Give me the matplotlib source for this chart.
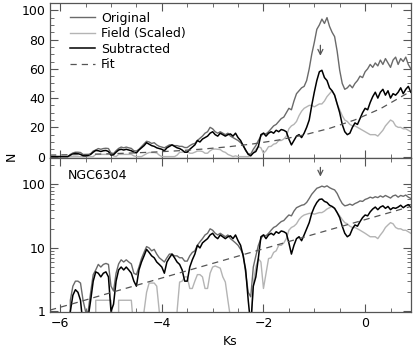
import matplotlib
matplotlib.use('Agg')
import matplotlib.pyplot as plt
import numpy as np
from matplotlib.ticker import MultipleLocator, LogLocator, NullFormatter, FixedLocator

# Ks bins, step 0.05 from -6.2 to 0.9 (10 values per row = 0.5 mag)
ks = np.round(np.arange(-6.2, 0.925, 0.05), 2)

original = [0, 0, 0, 0, 0, 0, 0, 0, 1.5, 2.5,
            3, 3, 2.8, 1.5, 1, 1, 2, 3.8, 4.5, 5.5,
            5, 5.5, 5.7, 5.5, 2.5, 2.1, 4, 5.6, 6.5, 6,
            6.5, 6, 5.6, 4, 3.8, 5, 6.8, 8.5, 10.5, 10,
            9, 9.5, 8, 7, 6.5, 6, 7, 8, 8, 7.5,
            7.5, 7, 7, 6.2, 6.2, 7.5, 8.5, 9, 11, 12.5,
            14, 16, 17, 20, 19, 17, 16, 17, 16, 15,
            16, 14, 13, 12, 11, 9.5, 8, 4, 2, 1.7,
            5, 7.5, 11, 14, 16, 15.5, 17, 19, 21, 22,
            24, 26, 27, 30, 33, 32, 38, 43, 45, 47,
            48, 52, 60, 70, 78, 87, 90, 94, 91, 95,
            89, 85, 82, 72, 59, 50, 46, 47, 49, 47,
            50, 52, 55, 54, 58, 60, 63, 61, 64, 62,
            66, 63, 67, 64, 61, 66, 68, 63, 67, 65,
            68, 63, 60]

field = [0, 0, 0, 0, 0, 0, 0, 0, 0, 0,
         0, 0, 0, 0, 0, 0, 0, 0, 1.5, 1.5,
         1.5, 1.5, 1.5, 1.5, 1.5, 0.5, 0, 1.5, 1.5, 1.5,
         1.5, 1.5, 1.5, 0.5, 0, 0, 0, 1, 2, 2.8,
         2.8, 2.8, 2.5, 1, 0, 0, 0, 0, 0, 0,
         1, 2.9, 3, 3.5, 3.5, 2.3, 2.3, 3, 3.8, 3.8,
         3.5, 2.3, 2.3, 4, 5, 5.2, 5, 4.8, 3.5, 2.9,
         1.5, 0.8, 0, 0.5, 0, 0, 0, 0, 0, 0.5,
         2.8, 5, 6.8, 6, 2.3, 4, 6.8, 7, 8.5, 9,
         11, 11, 12, 14, 19, 21, 22, 24, 28, 31,
         33, 34, 35, 35, 34, 35, 36, 36, 38, 41,
         43, 45, 42, 36, 32, 28, 25, 24, 22, 21,
         21, 20, 19, 18, 17, 16, 15, 15, 15, 14,
         16, 18, 21, 23, 25, 24, 21, 20, 20, 19,
         19, 18, 17]

subtracted = [0, 0, 0, 0, 0, 0, 0, 0, 1, 1.8,
              2.2, 2, 1.5, 0.6, 0.5, 0.8, 1.5, 3, 4.2, 4,
              3.5, 4, 4.2, 3.5, 1, 1.3, 3, 4.5, 5, 4.5,
              5, 4.5, 4, 3, 2.5, 4.5, 6, 7.5, 9.5, 8.5,
              7.5, 7, 6, 5.5, 5, 4, 6, 7, 8, 7,
              6, 5.5, 4.5, 3, 3, 5, 6.5, 8, 11, 10,
              12, 13, 14, 16, 17, 15, 14, 16, 15, 14,
              15, 15.5, 14, 16, 13, 11, 7.5, 4.5, 1.5, 0.6,
              2.5, 3.5, 7, 15, 16, 14, 16, 17, 16, 18,
              17, 18.5, 18, 17, 12, 8, 11, 14, 15, 13,
              16, 20, 25, 35, 44, 52, 58, 59, 54, 52,
              47, 45, 42, 36, 30, 22, 17, 15, 16, 20,
              23, 22, 26, 30, 33, 32, 37, 41, 44, 40,
              44, 46, 42, 45, 40, 43, 42, 44, 47, 43,
              46, 48, 44]

# exponential fit (read at 0.5 mag steps)
fit_ks = [-6.2, -5.7, -5.2, -4.7, -4.2, -3.7, -3.2, -2.7, -2.2, -1.7,
          -1.2, -0.7, -0.2, 0.3, 0.8, 0.9]
fit_n = [1.05, 1.36, 1.78, 2.32, 3.02, 3.94, 5.13, 6.68, 8.71, 11.35,
         14.8, 19.3, 25.1, 32.7, 42.7, 45.0]

peak_ks = -0.88

c_orig = '#6a6a6a'
c_field = '#b4b4b4'
c_sub = '#000000'
c_fit = '#555555'
c_axis = '#555555'

plt.rcParams['font.family'] = 'DejaVu Sans'
plt.rcParams['font.size'] = 9

fig = plt.figure(figsize=(4.15, 3.56), dpi=100)
ax1 = fig.add_axes([0.1205, 0.556, 0.8695, 0.4356])
ax2 = fig.add_axes([0.1205, 0.1236, 0.8695, 0.4324], sharex=ax1)

for ax in (ax1, ax2):
    ax.plot(ks, original, color=c_orig, lw=1.0, label='Original')
    ax.plot(ks, field, color=c_field, lw=1.0, label='Field (Scaled)')
    ax.plot(ks, subtracted, color=c_sub, lw=1.1, label='Subtracted')
    ax.plot(fit_ks, fit_n, color=c_fit, lw=0.9, ls=(0, (5, 4)), label='Fit')
    for s in ax.spines.values():
        s.set_color(c_axis)
        s.set_linewidth(0.9)
    ax.tick_params(which='both', direction='in', top=True, right=True,
                   color=c_axis, labelsize=9)
    ax.tick_params(which='major', length=6)
    ax.tick_params(which='minor', length=3)
    ax.xaxis.set_major_locator(MultipleLocator(2))
    ax.xaxis.set_minor_locator(MultipleLocator(0.5))

ax1.set_xlim(-6.2, 0.9)
ax1.set_ylim(-1, 105)
ax1.yaxis.set_major_locator(MultipleLocator(20))
ax1.yaxis.set_minor_locator(MultipleLocator(5))
ax1.tick_params(labelbottom=False)

ax2.set_yscale('log')
ax2.set_ylim(0.98, 260)
ax2.yaxis.set_major_locator(FixedLocator([1, 10, 100]))
ax2.yaxis.set_minor_locator(LogLocator(base=10, subs=np.arange(2, 10)))
ax2.yaxis.set_minor_formatter(NullFormatter())
ax2.set_yticklabels(['1', '10', '100'])
ax2.set_xticks([-6, -4, -2, 0])
ax2.set_xticklabels(['\u22126', '\u22124', '\u22122', '0'])

# arrows marking the peak
ax1.annotate('', xy=(peak_ks, 67), xytext=(peak_ks, 78),
             arrowprops=dict(arrowstyle='->', color=c_axis, lw=0.9))
ax2.annotate('', xy=(peak_ks, 120), xytext=(peak_ks, 205),
             arrowprops=dict(arrowstyle='->', color=c_axis, lw=0.9))

leg = ax1.legend(loc='upper left', frameon=False, fontsize=9,
                 handlelength=2.0, handletextpad=0.5, labelspacing=0.2,
                 borderaxespad=0.3, bbox_to_anchor=(0.03, 1.0))

ax2.text(0.05, 0.93, 'NGC6304', transform=ax2.transAxes, fontsize=9,
         va='top', ha='left')
ax2.set_xlabel('Ks', fontsize=9, labelpad=4)
fig.text(0.027, 0.56, 'N', rotation=90, fontsize=9, va='center', ha='center')

fig.savefig('out.png', dpi=100)
